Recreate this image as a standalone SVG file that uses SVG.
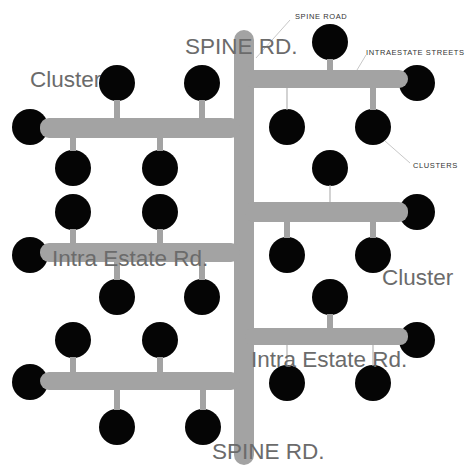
<svg xmlns="http://www.w3.org/2000/svg" width="471" height="465" viewBox="0 0 471 465">
<style>
.road{fill:#a3a3a3}
.stub{stroke:#a3a3a3;stroke-width:6}
.thin{stroke:#b5b5b5;stroke-width:1.2}
.lead{stroke:#c8c8c8;stroke-width:1;fill:none}
.lot{fill:#050505}
.big{font-family:"Liberation Sans",Arial,sans-serif;font-size:22.5px;fill:#6b6b6b}
.small{font-family:"Liberation Sans",Arial,sans-serif;font-size:7.5px;fill:#333;letter-spacing:0.6px}
</style>
<rect width="471" height="465" fill="#fff"/>
<text class="big" x="30" y="87">Cluster</text>
<g id="nodes">
<g id="c1"><circle class="lot" cx="117" cy="83" r="18"/></g>
<g id="c2"><circle class="lot" cx="202" cy="83" r="18"/></g>
<g id="c3"><circle class="lot" cx="30" cy="127" r="18"/></g>
<g id="c4"><circle class="lot" cx="73" cy="168" r="18"/></g>
<g id="c5"><circle class="lot" cx="160" cy="168" r="18"/></g>
<g id="c6"><circle class="lot" cx="73" cy="212" r="18"/></g>
<g id="c7"><circle class="lot" cx="160" cy="212" r="18"/></g>
<g id="c8"><circle class="lot" cx="30" cy="255" r="18"/></g>
<g id="c9"><circle class="lot" cx="117" cy="297" r="18"/></g>
<g id="c10"><circle class="lot" cx="202" cy="297" r="18"/></g>
<g id="c11"><circle class="lot" cx="73" cy="340" r="18"/></g>
<g id="c12"><circle class="lot" cx="160" cy="340" r="18"/></g>
<g id="c13"><circle class="lot" cx="30" cy="382" r="18"/></g>
<g id="c14"><circle class="lot" cx="117" cy="427" r="18"/></g>
<g id="c15"><circle class="lot" cx="203" cy="427" r="18"/></g>
<g id="c16"><circle class="lot" cx="330" cy="42" r="18"/></g>
<g id="c17"><circle class="lot" cx="417" cy="83" r="18"/></g>
<g id="c18"><circle class="lot" cx="287" cy="127" r="18"/></g>
<g id="c19"><circle class="lot" cx="373" cy="127" r="18"/></g>
<g id="c20"><circle class="lot" cx="330" cy="168" r="18"/></g>
<g id="c21"><circle class="lot" cx="417" cy="212" r="18"/></g>
<g id="c22"><circle class="lot" cx="287" cy="255" r="18"/></g>
<g id="c23"><circle class="lot" cx="373" cy="255" r="18"/></g>
<g id="c24"><circle class="lot" cx="330" cy="297" r="18"/></g>
<g id="c25"><circle class="lot" cx="417" cy="340" r="18"/></g>
<g id="c26"><circle class="lot" cx="287" cy="383" r="18"/></g>
<g id="c27"><circle class="lot" cx="373" cy="383" r="18"/></g>
</g>
<g id="connectors">
<rect class="road" x="234" y="30" width="20" height="435" rx="10"/>
<rect class="road" x="40" y="118" width="200" height="20" rx="9"/>
<rect class="road" x="40" y="243" width="200" height="19" rx="9"/>
<rect class="road" x="40" y="372" width="200" height="18" rx="9"/>
<rect class="road" x="245" y="70" width="163" height="18" rx="9"/>
<rect class="road" x="245" y="202" width="163" height="20" rx="9"/>
<rect class="road" x="245" y="328" width="163" height="17" rx="8"/>
<line class="stub" x1="117" y1="100" x2="117" y2="118"/>
<line class="stub" x1="202" y1="100" x2="202" y2="118"/>
<line class="stub" x1="73" y1="138" x2="73" y2="151"/>
<line class="stub" x1="160" y1="138" x2="160" y2="151"/>
<line class="stub" x1="73" y1="229" x2="73" y2="243"/>
<line class="stub" x1="160" y1="229" x2="160" y2="243"/>
<line class="stub" x1="117" y1="262" x2="117" y2="280"/>
<line class="stub" x1="202" y1="262" x2="202" y2="280"/>
<line class="stub" x1="73" y1="357" x2="73" y2="372"/>
<line class="stub" x1="160" y1="357" x2="160" y2="372"/>
<line class="stub" x1="117" y1="390" x2="117" y2="410"/>
<line class="stub" x1="203" y1="390" x2="203" y2="410"/>
<line class="stub" x1="330" y1="59" x2="330" y2="70"/>
<line class="thin" x1="287" y1="88" x2="287" y2="110"/>
<line class="stub" x1="373" y1="88" x2="373" y2="110"/>
<line class="thin" x1="330" y1="185" x2="330" y2="202"/>
<line class="stub" x1="287" y1="222" x2="287" y2="238"/>
<line class="stub" x1="373" y1="222" x2="373" y2="238"/>
<line class="stub" x1="330" y1="314" x2="330" y2="328"/>
<line class="thin" x1="287" y1="345" x2="287" y2="366"/>
<line class="thin" x1="373" y1="345" x2="373" y2="366"/>
<path class="lead" d="M290 20 L256 58"/>
<path class="lead" d="M366 55 L357 70"/>
<path class="lead" d="M410 163 L385 141"/>
</g>
<g id="labels">
<text class="big" x="185" y="54">SPINE RD.</text>
<text class="big" x="212" y="459">SPINE RD.</text>
<text class="big" x="52" y="266">Intra Estate Rd.</text>
<text class="big" x="251" y="367">Intra Estate Rd.</text>
<text class="big" x="382" y="285">Cluster</text>
<text class="small" x="295" y="19">SPINE ROAD</text>
<text class="small" x="366" y="55">INTRAESTATE STREETS</text>
<text class="small" x="413" y="168">CLUSTERS</text>
</g>
</svg>
